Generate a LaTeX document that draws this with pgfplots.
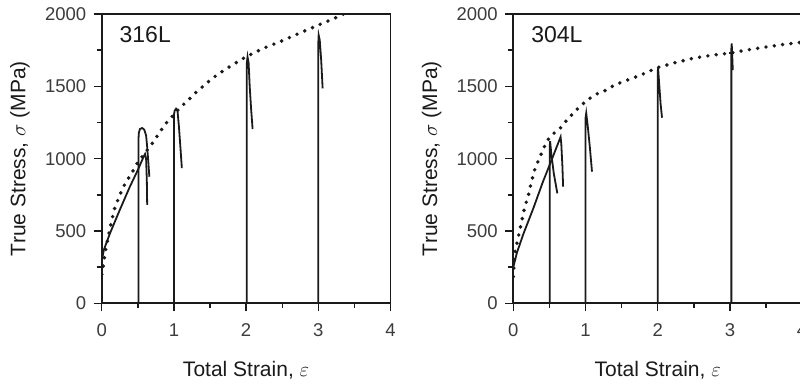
\documentclass[border=0pt]{standalone}
\usepackage{pgfplots}
\pgfplotsset{compat=1.18}
\usepackage{fontspec}
\setmainfont{Liberation Sans}
\definecolor{ink}{HTML}{1A1A1A}
\begin{document}
\begin{tikzpicture}
\path[use as bounding box] (0pt,0pt) rectangle (800pt,384pt);
\clip (0pt,0pt) rectangle (800pt,384pt);
\pgfplotsset{
  panel/.style={
    scale only axis, width=288.8pt, height=289.3pt,
    xmin=0, xmax=4, ymin=0, ymax=2000,
    xtick={0,1,2,3,4}, minor xtick={0.5,1.5,2.5,3.5},
    ytick={0,500,1000,1500,2000}, minor ytick={250,750,1250,1750},
    tick align=outside, major tick length=8pt, minor tick length=5pt,
    xtick pos=bottom, ytick pos=left,
    axis line style={line width=1.7pt, ink},
    every tick/.style={line width=1.4pt, ink},
    /pgf/number format/assume math mode=true,
    /pgf/number format/set thousands separator={},
    ticklabel style={font=\fontsize{18.5}{18.5}\selectfont, text=ink!85},
    xticklabel style={yshift=-9pt},
    yticklabel style={xshift=-4pt},
    label style={font=\fontsize{21}{21}\selectfont, text=ink},
    xlabel={Total Strain, $\varepsilon$},
    ylabel={True Stress, $\sigma$ (MPa)},
    xlabel style={at={(axis description cs:0.5,-0.232)}, anchor=center},
    ylabel style={at={(axis description cs:-0.283,0.5)}, anchor=center},
    solid/.style={line width=1.8pt, ink},
    dots/.style={line width=3.9pt, ink, line cap=round, dash pattern=on 0pt off 8.4pt},
  }
}
% ---------------- 316L ----------------
\begin{axis}[panel, at={(101.7pt,80.7pt)}, anchor=south west]
\addplot[dots] coordinates {(0,200) (0.02,253) (0.045,345) (0.09,460) (0.14,576) (0.18,656) (0.25,748) (0.3,806) (0.37,864) (0.44,921) (0.5,975) (0.6,1040) (0.7,1105) (0.8,1180) (0.9,1250) (1.0,1305) (1.1,1360) (1.2,1405) (1.3,1455) (1.46,1525) (1.6,1580) (1.8,1645) (2.0,1705) (2.25,1765) (2.5,1815) (2.75,1870) (3.0,1923) (3.2,1965) (3.35,2000)};
\addplot[solid] coordinates {(0,290) (0.03,370) (0.115,484) (0.25,645) (0.39,806) (0.5,921) (0.58,1013) (0.6,1032) (0.615,1000) (0.625,850) (0.63,680)};
\addplot[solid] coordinates {(0.51,0) (0.51,1140) (0.515,1180) (0.53,1205) (0.56,1212) (0.59,1200) (0.615,1160) (0.63,1080) (0.645,980) (0.66,875)};
\addplot[solid] coordinates {(1,0) (1,1300) (1.01,1330) (1.03,1345) (1.05,1330) (1.07,1220) (1.09,1080) (1.11,935)};
\addplot[solid] coordinates {(2.01,0) (2.01,1660) (2.02,1704) (2.035,1660) (2.05,1500) (2.07,1340) (2.09,1205)};
\addplot[solid] coordinates {(3,0) (3,1800) (3.005,1854) (3.02,1820) (3.04,1680) (3.06,1486)};
\node[anchor=base west, font=\fontsize{23}{23}\selectfont, text=ink] at (axis cs:0.2,1800) {316L};
\end{axis}
% ---------------- 304L ----------------
\begin{axis}[panel, at={(513.3pt,80.7pt)}, anchor=south west]
\addplot[dots] coordinates {(0,185) (0.02,345) (0.07,460) (0.12,576) (0.16,668) (0.21,748) (0.25,840) (0.3,930) (0.35,990) (0.41,1059) (0.46,1117) (0.53,1163) (0.59,1186) (0.67,1220) (0.74,1267) (0.85,1324) (0.94,1370) (1.06,1417) (1.17,1451) (1.29,1474) (1.4,1509) (1.52,1532) (1.75,1575) (2.0,1630) (2.25,1665) (2.5,1695) (2.75,1715) (3.0,1730) (3.25,1752) (3.5,1772) (3.75,1790) (4,1805)};
\addplot[solid] coordinates {(0,250) (0.05,350) (0.14,480) (0.28,660) (0.41,840) (0.53,990) (0.6,1080) (0.655,1150) (0.665,1100) (0.68,950) (0.69,806)};
\addplot[solid] coordinates {(0.505,0) (0.505,1090) (0.51,1120) (0.525,1040) (0.56,900) (0.61,760)};
\addplot[solid] coordinates {(1.0,0) (1.0,1280) (1.01,1315) (1.03,1230) (1.06,1080) (1.09,910)};
\addplot[solid] coordinates {(2,0) (2,1590) (2.005,1630) (2.02,1520) (2.04,1380) (2.06,1283)};
\addplot[solid] coordinates {(3.02,0) (3.02,1760) (3.025,1797) (3.03,1740) (3.04,1612)};
\addplot[solid] coordinates {(2.99,1728) (3.06,1728)};
\node[anchor=base west, font=\fontsize{23}{23}\selectfont, text=ink] at (axis cs:0.2,1800) {304L};
\end{axis}
\end{tikzpicture}
\end{document}
